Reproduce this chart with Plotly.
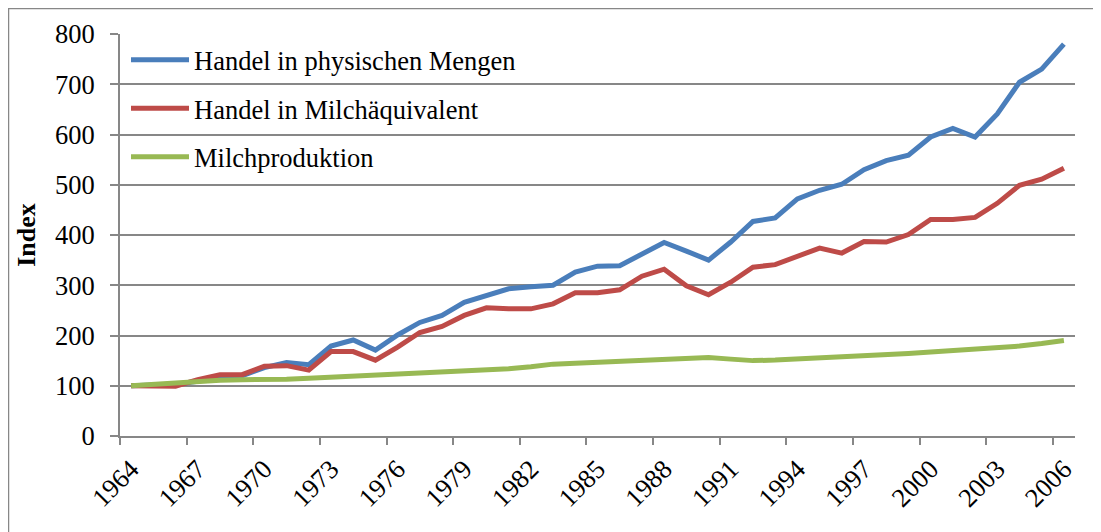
import plotly.graph_objects as go

years = list(range(1964, 2007))

handel_physisch = [100, 101, 103, 109, 118, 120, 136, 146, 142, 179, 191, 171, 201, 226, 240,
                   266, 279, 293, 297, 300, 326, 338, 339, 363, 385, 368, 350, 386, 427, 434,
                   472, 489, 501, 530, 548, 559, 595, 612, 595, 641, 704, 730, 780]

handel_milchaeq = [100, 99, 99, 112, 122, 122, 139, 140, 131, 168, 168, 151, 177, 206, 218,
                   240, 255, 253, 253, 263, 285, 285, 291, 318, 332, 299, 281, 306, 336, 341,
                   357, 374, 364, 387, 386, 401, 431, 431, 435, 463, 499, 511, 533]

milchproduktion = [100, 103, 106, 108, 111, 112, 112, 113, 115, 117, 119, 120, 123, 126, 128,
                   130, 132, 134, 138, 143, 145, 147, 150, 150, 152, 155, 156, 153, 150, 151,
                   153, 155, 156, 158, 161, 164, 167, 170, 172, 176, 179, 184, 190]

names = ["Handel in physischen Mengen", "Handel in Milchäquivalent", "Milchproduktion"]
colors = ["#4A7EBB", "#BE4B48", "#98B954"]
series = [handel_physisch, handel_milchaeq, milchproduktion]

label_years = years[::3]
boundary_ticks = [y - 0.5 for y in years[::3]]

FONT = "Liberation Serif, Times New Roman, serif"
GRID = "#878787"

fig = go.Figure()
for i, (n, c, s) in enumerate(zip(names, colors, series)):
    fig.add_trace(go.Scatter(x=years, y=s, mode="lines", name=n,
                             line=dict(color=c, width=5), legendgroup=str(i)))

# page body has an 8px margin; figure sized to fit the 1101x532 window
W, H = 1093, 524
L, T = 112, 26
R = W - (1075 - 8)
B = H - (436 - 8)
pw, ph = W - L - R, H - T - B

fig.update_layout(
    width=W, height=H,
    margin=dict(l=L, r=R, t=T, b=B, autoexpand=False),
    paper_bgcolor="white", plot_bgcolor="white",
    font=dict(family=FONT, size=26.5, color="black"),
    showlegend=True,
    legend=dict(x=6 / pw, y=1 - 2 / ph, xanchor="left", yanchor="top",
                bgcolor="rgba(0,0,0,0)", borderwidth=0, tracegroupgap=11,
                itemwidth=58, font=dict(family=FONT, size=26.5)),
    xaxis=dict(range=[1963.5, 2006.5], tickmode="array", tickvals=label_years,
               ticktext=[str(y) for y in label_years], tickangle=-45, ticks="",
               ticklabelstandoff=5,
               showgrid=False, zeroline=False, showline=True, linecolor=GRID, linewidth=2,
               tickfont=dict(family=FONT, size=26.5),
               minor=dict(tickmode="array", tickvals=boundary_ticks, ticks="outside",
                          ticklen=7, tickwidth=2, tickcolor=GRID, showgrid=False)),
    yaxis=dict(range=[0, 800], tickmode="array", tickvals=list(range(0, 801, 100)),
               ticks="outside", ticklen=8, tickwidth=2, tickcolor=GRID,
               showgrid=True, gridcolor=GRID, gridwidth=2, zeroline=False,
               showline=True, linecolor=GRID, linewidth=2,
               ticklabelstandoff=10,
               tickfont=dict(family=FONT, size=26.5),
               title=dict(text="<b>Index</b>", standoff=12,
                          font=dict(family=FONT, size=26))),
    shapes=[dict(type="rect", xref="paper", yref="paper",
                 x0=-L / pw + 0.5 / pw, x1=1.2, y0=-0.5, y1=1 + (T - 0.5) / ph,
                 line=dict(color=GRID, width=1.5), fillcolor="rgba(0,0,0,0)", layer="below")],
)

fig.write_html("out.html")
